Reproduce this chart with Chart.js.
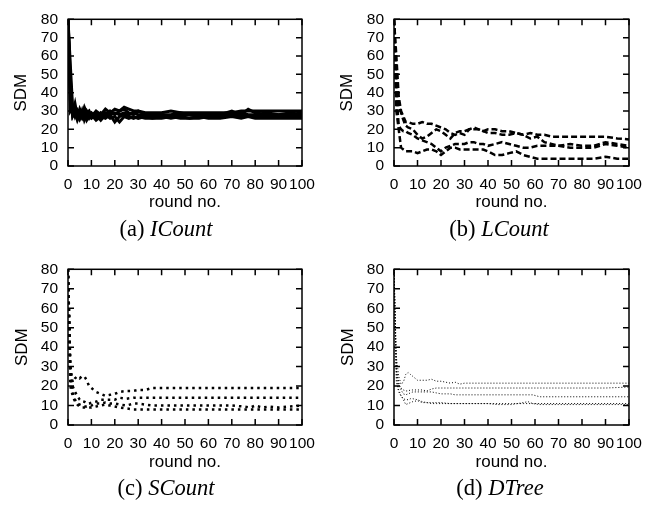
<!DOCTYPE html>
<html>
<head>
<meta charset="utf-8">
<script src="https://cdn.jsdelivr.net/npm/chart.js@4"></script>
<style>
  body { margin: 0; background: #fff; }
  #page { position: relative; width: 656px; height: 506px; overflow: hidden; }
  .panel { position: absolute; width: 328px; }
  .cap { position: absolute; font-family: "Liberation Serif", "Times New Roman", serif; font-size: 22.5px; color: #000; white-space: nowrap; transform: translate(-50%, -50%); }
  .cap i { font-style: italic; }
</style>
</head>
<body>
<div id="page">
  <div class="panel" style="left:0;top:0;height:250px"><canvas id="chartA"></canvas></div>
  <div class="panel" style="left:328px;top:0;height:250px"><canvas id="chartB"></canvas></div>
  <div class="panel" style="left:0;top:250px;height:256px"><canvas id="chartC"></canvas></div>
  <div class="panel" style="left:328px;top:250px;height:256px"><canvas id="chartD"></canvas></div>
  <div class="cap" style="left:166px;top:229px">(a) <i>ICount</i></div>
  <div class="cap" style="left:499px;top:229px">(b) <i>LCount</i></div>
  <div class="cap" style="left:166px;top:488px">(c) <i>SCount</i></div>
  <div class="cap" style="left:500px;top:488px">(d) <i>DTree</i></div>
</div>
<script>
// rounds (x) and SDM values
const roundsA = [0,1,2,3,4,5,6,7,8,9,10,12,14,16,18,20,22,24,26,28,30,33,36,40,44,48,52,56,60,65,70,74,77,80,85,90,95,100];
const icount1 = [80,42,29,34,27,31,28,32,29,30,27,30,28,31,29,31,30,32,31,30,30,29,29,29,30,29,29,29,29,29,29,30,30,30,30,30,30,30];
const icount2 = [80,55,31,27,30,26,29,27,30,28,29,26,29,27,30,28,30,31,29,28,30,28,28,28,28,29,28,28,28,28,30,28,31,29,28,28,29,28];
const icount3 = [80,36,27,29,25,28,26,29,25,27,26,28,25,28,26,27,24,27,26,27,26,27,26,27,26,27,26,26,27,27,27,27,27,27,27,27,27,27];
const icount4 = [80,48,28,31,29,26,30,25,28,26,28,25,27,26,28,24,27,28,27,26,27,26,26,26,27,26,26,27,26,26,27,26,27,26,26,26,26,26];
const icount5 = [80,30,32,28,30,28,27,29,27,29,28,29,27,29,28,29,28,29,28,29,28,28,27,28,27,28,28,27,28,28,28,29,28,28,29,28,28,29];

const roundsB = [0,1,2,3,4,5,6,8,10,12,14,16,18,20,22,24,26,28,30,32,34,36,38,40,43,46,49,52,55,58,61,64,67,70,75,80,85,90,95,100];
const lcount1 = [80,60,38,30,27,24,24,23,23,24,23,23,22,21,20,18,17,18,17,20,21,20,19,20,20,19,19,18,17,18,17,17,16,16,16,16,16,16,15,14.5];
const lcount2 = [80,50,33,29,25,22,21,20,17,15,16,18,20,19,17,15,18,19,19,20,20,20,19,18,18,17,17,18,17,15,16,13,12,11,12,11,11,13,12,11];
const lcount3 = [80,40,22,20,19,19,18,17,15,14,13,12,10,8,10,11,12,12,12,13,13,12,12,11,12,13,12,11,10,10,11,11,11,11,10,10,10,12,11,10];
const lcount4 = [80,30,20,10,9,8,8,8,7,8,9,9,8,6,8,10,10,9,9,9,9,9,9,8,6,6,7,8,6,5,4,4,4,4,4,4,4,5,4,4];

const roundsC = [0,1,2,3,4,5,6,7,8,9,10,12,14,16,18,20,22,25,28,30,33,36,40,50,60,70,75,78,80,83,86,90,95,100];
const scount1 = [80,30,22,24,25,24,25,25,23,20,19,17,16,15,15.5,16,17,17.5,17.5,18,18,19,19,19,19,19,19,19,19,19,19,19,19,19];
const scount2 = [80,28,20,17,15,13,12,12,11,11,11.5,12,13,13,13,13,14,13.5,14,14,14,14,14,14,14,14,14,14,14,14,14,14,14,14];
const scount3 = [80,25,17,13,11,10.5,10,9.5,9.5,10,10,11,11,11.5,11,11,10.5,10,11,11,10.5,10,10,10,10,10,9.5,9,10,9,9.5,9,9.5,10];
const scount4 = [80,20,15,12,10.5,9.5,9,9,9,9,9,9.5,10,10.5,10,9.5,9,8.5,8,8,8,8,8,8,8,8,8,8,8,8,8,8,8,8];

const roundsD = [0,1,2,3,4,5,6,7,8,10,12,14,16,18,20,24,26,28,30,40,44,50,55,57,59,62,70,80,90,100];
const dtree1 = [80,35,25,21,22,26,27,26,25,23,23,23,23.5,22.5,22.5,21.5,22,21,21.5,21.5,21.5,21.5,21.5,21.5,21.5,21.5,21.5,21.5,21.5,21.5];
const dtree2 = [80,30,20,19,18,17.5,17.5,18,18,18,18,17.5,18.5,19,19,19,19,19,19,19,19,19,19,19,19,19,19,19,19,19.5];
const dtree3 = [80,28,22,18,16,15.5,16,16.5,17,17,17,17,17,16.5,16,16,15.5,15.5,15.5,15.5,15.5,15.5,15.5,15.5,15.5,14.5,14.5,14.5,14.5,14.5];
const dtree4 = [80,25,18,15,13,10.5,11,11.5,12,12.5,11.5,11.5,11.5,11.5,11.5,11,11,11,11,11,10.5,10.5,11.5,12,11,10.5,10.5,10.5,10.5,10.5];
const dtree5 = [80,22,17,15,13.5,13,13,13.5,13.5,13,12,11.5,11,11,11,11,11,11,11,11,11,11,11,11,11,11,11,11,11,11];

const xTicks = [0,10,20,30,40,50,60,70,80,90,100];
const yTicks = [0,10,20,30,40,50,60,70,80];

// gnuplot-like frame with inward, mirrored ticks
const frameTicks = {
  id: "frameTicks",
  afterDatasetsDraw(chart) {
    const { ctx, chartArea: a, scales: { x, y } } = chart;
    ctx.save();
    ctx.strokeStyle = "#000";
    ctx.lineWidth = 1.5;
    ctx.setLineDash([]);
    ctx.strokeRect(a.left, a.top, a.right - a.left, a.bottom - a.top);
    ctx.beginPath();
    x.ticks.forEach((t) => {
      const px = x.getPixelForValue(t.value);
      ctx.moveTo(px, a.bottom); ctx.lineTo(px, a.bottom - 6);
      ctx.moveTo(px, a.top); ctx.lineTo(px, a.top + 6);
    });
    y.ticks.forEach((t) => {
      const py = y.getPixelForValue(t.value);
      ctx.moveTo(a.left, py); ctx.lineTo(a.left + 6, py);
      ctx.moveTo(a.right, py); ctx.lineTo(a.right - 6, py);
    });
    ctx.stroke();
    ctx.restore();
  },
};

function makeSeries(rounds, values, style) {
  return Object.assign({
    data: rounds.map((r, i) => ({ x: r, y: values[i] })),
    borderColor: "#000",
    pointRadius: 0,
    tension: 0,
    fill: false,
  }, style);
}

function drawPanel(id, rounds, seriesList, style, box) {
  const tickFont = { family: "'Liberation Sans', Arial, sans-serif", size: 15.5 };
  const titleFont = { family: "'Liberation Sans', Arial, sans-serif", size: 17 };
  new Chart(document.getElementById(id), {
    type: "line",
    data: { datasets: seriesList.map((s) => makeSeries(rounds, s, style)) },
    options: {
      responsive: true,
      maintainAspectRatio: false,
      animation: false,
      layout: { padding: { left: box.padLeft, right: box.padRight, top: 10, bottom: box.padBottom } },
      plugins: { legend: { display: false }, tooltip: { enabled: false } },
      scales: {
        x: {
          type: "linear",
          min: 0,
          max: 100,
          grid: { display: false, drawTicks: false },
          border: { display: false },
          afterBuildTicks: (s) => { s.ticks = xTicks.map((v) => ({ value: v })); },
          afterFit: (s) => { s.height = box.xHeight; },
          ticks: { color: "#000", font: tickFont, padding: 9.5, maxRotation: 0, autoSkip: false },
          title: { display: true, text: "round no.", color: "#000", font: titleFont, padding: 0 },
        },
        y: {
          min: 0,
          max: 80,
          grid: { display: false, drawTicks: false },
          border: { display: false },
          afterBuildTicks: (s) => { s.ticks = yTicks.map((v) => ({ value: v })); },
          afterFit: (s) => { s.width = box.yWidth; },
          ticks: { color: "#000", font: tickFont, padding: 10, autoSkip: false },
          title: { display: true, text: "SDM", color: "#000", font: titleFont, padding: 0 },
        },
      },
    },
    plugins: [frameTicks],
  });
}

drawPanel("chartA", roundsA, [icount1, icount2, icount3, icount4, icount5],
  { borderWidth: 3 },
  { padLeft: 11, yWidth: 57, padRight: 26, xHeight: 47, padBottom: 37 });
drawPanel("chartB", roundsB, [lcount1, lcount2, lcount3, lcount4],
  { borderWidth: 2.5, borderDash: [6, 3] },
  { padLeft: 9, yWidth: 57, padRight: 27, xHeight: 47, padBottom: 37 });
drawPanel("chartC", roundsC, [scount1, scount2, scount3, scount4],
  { borderWidth: 2.5, borderDash: [2.5, 4] },
  { padLeft: 12, yWidth: 56, padRight: 26, xHeight: 48, padBottom: 33 });
drawPanel("chartD", roundsD, [dtree1, dtree2, dtree3, dtree4, dtree5],
  { borderWidth: 1, borderDash: [1, 2] },
  { padLeft: 10, yWidth: 56, padRight: 27, xHeight: 48, padBottom: 33 });
</script>
</body>
</html>
